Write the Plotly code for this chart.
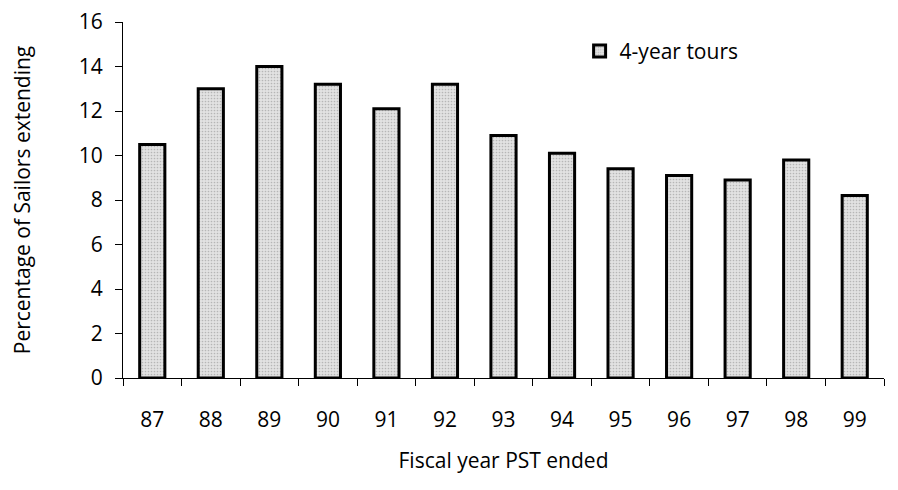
import plotly.graph_objects as go

years = ["87", "88", "89", "90", "91", "92", "93", "94", "95", "96", "97", "98", "99"]
pct_extending = [10.5, 13.0, 14.0, 13.2, 12.1, 13.2, 10.9, 10.1, 9.4, 9.1, 8.9, 9.8, 8.2]
series_name = "4-year tours"
y_ticks = [0, 2, 4, 6, 8, 10, 12, 14, 16]

font = "Open Sans"

fig = go.Figure()
fig.add_trace(go.Bar(
    x=years, y=pct_extending, name=series_name, width=0.43,
    marker=dict(color="#d8d8d8", line=dict(color="black", width=3),
                pattern=dict(shape=".", fgcolor="#8a8a8a", bgcolor="#e2e2e2", size=3, solidity=0.25)),
    showlegend=True,
))

fig.update_layout(
    width=898, height=490,
    margin=dict(l=115, r=22, t=14, b=120, autoexpand=False),
    paper_bgcolor="white", plot_bgcolor="white",
    font=dict(family=font, size=21, color="black"),
    showlegend=True,
    legend=dict(x=0.6, y=0.975, xanchor="left", yanchor="top", bgcolor="rgba(0,0,0,0)",
                font=dict(size=21), itemwidth=30),
)
fig.update_xaxes(
    type="category", range=[-0.5, 12.5], tickson="boundaries", automargin=False,
    showline=True, linecolor="black", linewidth=1.3,
    ticks="outside", ticklen=7, tickcolor="black", tickwidth=1.3,
    ticklabelstandoff=23, showgrid=False,
    title=dict(text="Fiscal year PST ended", standoff=20, font=dict(size=21)),
)
fig.update_yaxes(
    range=[0, 16], tickvals=y_ticks, automargin=False, ticklabeloverflow="allow",
    showline=True, linecolor="black", linewidth=1.3,
    ticks="outside", ticklen=7, tickcolor="black", tickwidth=1.3,
    ticklabelstandoff=8, showgrid=False, zeroline=False,
    title=dict(text="Percentage of Sailors extending", standoff=52, font=dict(size=21)),
)

fig.write_html("out.html")
